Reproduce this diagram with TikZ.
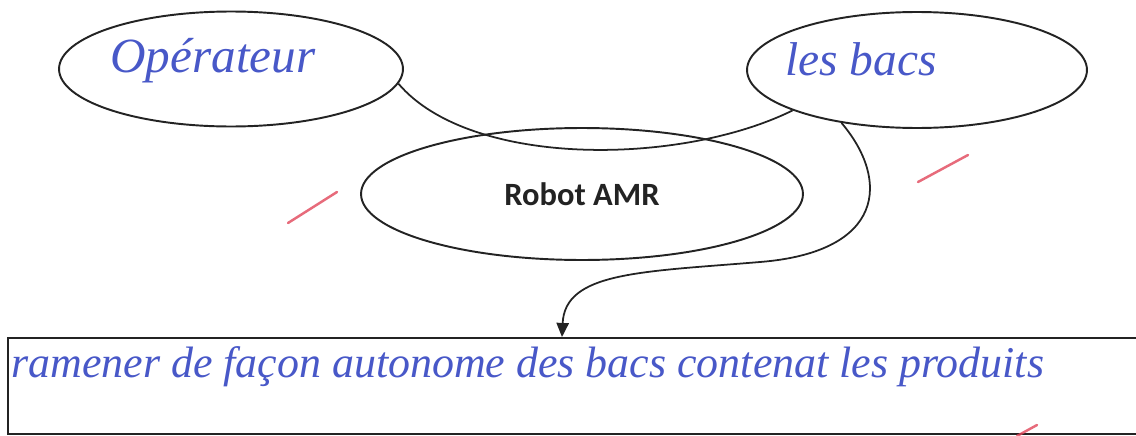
\documentclass[tikz,border=0pt]{standalone}
\usepackage{fontspec}
\setmainfont{Liberation Serif}
\newfontfamily\robotfont{Carlito}
\usetikzlibrary{shapes.geometric,arrows.meta}
\definecolor{ink}{RGB}{72,88,200}
\definecolor{redmark}{RGB}{225,70,90}
\definecolor{linegray}{RGB}{35,35,35}
\begin{document}
\begin{tikzpicture}[x=0.02cm,y=-0.02cm,
  oval/.style={draw=linegray,line width=1.1pt,ellipse,inner sep=0pt},
  hand/.style={text=ink,font=\fontsize{25}{28}\selectfont\itshape,inner sep=0pt},
  link/.style={draw=linegray,line width=1pt},
  pen/.style={draw=redmark,line width=1.4pt,line cap=round,opacity=0.8}]
\useasboundingbox[fill=white] (0,0) rectangle (1136,436);
% ellipses
\node[oval,minimum width=6.88cm,minimum height=2.3cm] (op) at (231,69) {};
\node[oval,minimum width=6.8cm,minimum height=2.32cm] (bacs) at (917,70) {};
\node[oval,minimum width=8.84cm,minimum height=2.64cm,font=\robotfont\bfseries\fontsize{18.5}{20}\selectfont,text=linegray] (robot) at (582,194) {Robot AMR};
% ellipse labels
\node[hand,anchor=base west,font=\fontsize{28}{30}\selectfont\itshape] (optxt) at (110,72) {Opérateur};
\node[hand,anchor=base west,font=\fontsize{27}{30}\selectfont\itshape] (bacstxt) at (785,75) {les bacs};
% bottom box
\node[draw=linegray,line width=1.1pt,anchor=north west,minimum width=22.8cm,minimum height=1.92cm,inner sep=0pt] (box) at (7,337) {};
\node[hand,anchor=base west] (boxtxt) at (11,377) {ramener de façon autonome des bacs contenat les produits};
% connectors
\draw[link] (op.-5) .. controls (470,168) and (680,166) .. (bacs.198);
\coordinate (tipx) at (562,0);
\draw[link,-{Triangle[length=8pt,width=7pt,fill=linegray]}]
  (bacs.215) .. controls (890,180) and (885,252) .. (760,262)
  .. controls (640,272) and (565,272) .. (tipx |- box.north);
% red pen marks
\draw[pen] (288,223) -- (337,192);
\draw[pen] (918,182) -- (968,155);
\draw[pen] (1017,436) -- (1037,425);
\end{tikzpicture}
\end{document}
